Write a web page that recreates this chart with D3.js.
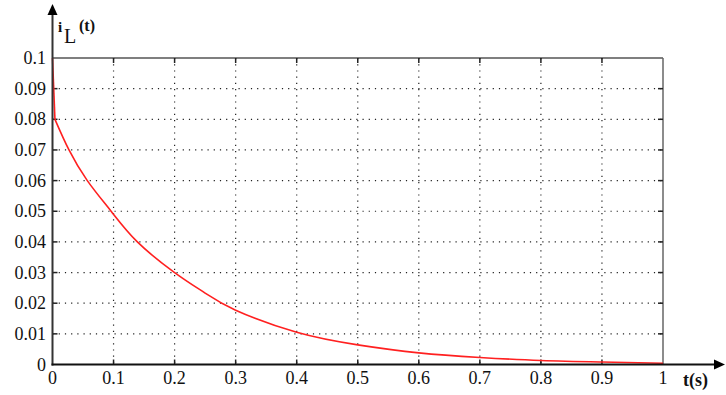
<!DOCTYPE html>
<html>
<head>
<meta charset="utf-8">
<script src="https://cdn.jsdelivr.net/npm/d3@7"></script>
<style>
  body { margin: 0; background: #fff; }
  svg text { fill: #111; }
</style>
</head>
<body>
<div id="chart"></div>
<script>
const width = 726;
const height = 395;

// values
const tValues = [0, 0.004, 0.027, 0.057, 0.096, 0.139, 0.2, 0.25, 0.3, 0.4, 0.5, 0.6, 0.7, 0.8, 0.9, 1.0];
const iValues = [0.1, 0.08, 0.07, 0.06, 0.05, 0.04, 0.03, 0.0233, 0.0177, 0.0105, 0.0064, 0.0038, 0.0023, 0.0013, 0.0008, 0.0004];
const xTicks = [0, 0.1, 0.2, 0.3, 0.4, 0.5, 0.6, 0.7, 0.8, 0.9, 1];
const yTicks = [0, 0.01, 0.02, 0.03, 0.04, 0.05, 0.06, 0.07, 0.08, 0.09, 0.1];
const xTickLabels = ['0', '0.1', '0.2', '0.3', '0.4', '0.5', '0.6', '0.7', '0.8', '0.9', '1'];
const yTickLabels = ['0', '0.01', '0.02', '0.03', '0.04', '0.05', '0.06', '0.07', '0.08', '0.09', '0.1'];

const points = tValues.map((t, i) => ({ t: t, v: iValues[i] }));

const plotLeft = 52.5, plotRight = 663, plotTop = 58, plotBottom = 364.5;
const serif = 'Times New Roman, Liberation Serif, Tinos, DejaVu Serif, serif';

const x = d3.scaleLinear().domain([0, 1]).range([plotLeft, plotRight]);
const y = d3.scaleLinear().domain([0, 0.1]).range([plotBottom, plotTop]);

const svg = d3.select('#chart').append('svg')
    .attr('width', width)
    .attr('height', height)
    .style('font-family', serif);

// dotted grid
svg.append('g').selectAll('line')
    .data(xTicks.slice(1, -1))
    .join('line')
    .attr('x1', d => x(d)).attr('x2', d => x(d))
    .attr('y1', plotTop).attr('y2', plotBottom)
    .attr('stroke', '#222')
    .attr('stroke-width', 1.2)
    .attr('stroke-dasharray', '1.2,5');

svg.append('g').selectAll('line')
    .data(yTicks.slice(1, -1))
    .join('line')
    .attr('x1', plotLeft).attr('x2', plotRight)
    .attr('y1', d => y(d)).attr('y2', d => y(d))
    .attr('stroke', '#222')
    .attr('stroke-width', 1.2)
    .attr('stroke-dasharray', '1.2,5');

// top border and right border
svg.append('line')
    .attr('x1', plotLeft).attr('x2', plotRight)
    .attr('y1', plotTop).attr('y2', plotTop)
    .attr('stroke', '#000').attr('stroke-width', 1.2);
svg.append('line')
    .attr('x1', plotRight).attr('x2', plotRight)
    .attr('y1', plotTop).attr('y2', plotBottom)
    .attr('stroke', '#666').attr('stroke-width', 1.5);

// small inward ticks (top, bottom, left, right)
const tickLen = 5;
const ticks = svg.append('g').attr('stroke', '#222').attr('stroke-width', 1.5);
ticks.append('g').selectAll('line').data(xTicks.slice(1, -1)).join('line')
    .attr('x1', d => x(d)).attr('x2', d => x(d))
    .attr('y1', plotTop).attr('y2', plotTop + tickLen);
ticks.append('g').selectAll('line').data(xTicks.slice(1, -1)).join('line')
    .attr('x1', d => x(d)).attr('x2', d => x(d))
    .attr('y1', plotBottom).attr('y2', plotBottom - tickLen);
ticks.append('g').selectAll('line').data(yTicks.slice(1, -1)).join('line')
    .attr('x1', plotLeft).attr('x2', plotLeft + tickLen)
    .attr('y1', d => y(d)).attr('y2', d => y(d));
ticks.append('g').selectAll('line').data(yTicks.slice(1, -1)).join('line')
    .attr('x1', plotRight).attr('x2', plotRight - tickLen)
    .attr('y1', d => y(d)).attr('y2', d => y(d));

// curve: the initial jump is straight, the decay is smooth
const line = d3.line()
    .x(d => x(d.t))
    .y(d => y(d.v));

svg.append('path')
    .datum(points.slice(0, 2))
    .attr('d', line)
    .attr('fill', 'none')
    .attr('stroke', '#ff2020')
    .attr('stroke-width', 1.6);

svg.append('path')
    .datum(points.slice(1))
    .attr('d', line.curve(d3.curveNatural))
    .attr('fill', 'none')
    .attr('stroke', '#ff2020')
    .attr('stroke-width', 1.6);

// axes with arrows
svg.append('line')
    .attr('x1', plotLeft).attr('x2', plotLeft)
    .attr('y1', plotBottom + 1).attr('y2', 14)
    .attr('stroke', '#333').attr('stroke-width', 2);
svg.append('path')
    .attr('d', `M${plotLeft - 5},15 L${plotLeft},4 L${plotLeft + 5},15 Z`)
    .attr('fill', '#000');

svg.append('line')
    .attr('x1', plotLeft - 1).attr('x2', 715)
    .attr('y1', plotBottom).attr('y2', plotBottom)
    .attr('stroke', '#111').attr('stroke-width', 2);
svg.append('path')
    .attr('d', `M714,${plotBottom - 5} L725,${plotBottom} L714,${plotBottom + 5} Z`)
    .attr('fill', '#000');

// tick labels
svg.append('g').selectAll('text')
    .data(yTicks)
    .join('text')
    .attr('x', 46)
    .attr('y', d => y(d) + 6)
    .attr('text-anchor', 'end')
    .style('font-size', '18px')
    .text((d, i) => yTickLabels[i]);

svg.append('g').selectAll('text')
    .data(xTicks)
    .join('text')
    .attr('x', d => x(d))
    .attr('y', 384)
    .attr('text-anchor', 'middle')
    .style('font-size', '18px')
    .text((d, i) => xTickLabels[i]);

// axis titles
const yTitle = svg.append('text');
yTitle.append('tspan').attr('x', 58).attr('y', 32)
    .style('font-size', '15px').style('font-weight', 'bold').text('i');
yTitle.append('tspan').attr('x', 64).attr('y', 43)
    .style('font-size', '20px').text('L');
yTitle.append('tspan').attr('x', 79).attr('y', 31)
    .style('font-size', '16px').style('font-weight', 'bold').text('(t)');

svg.append('text')
    .attr('x', 683)
    .attr('y', 386)
    .style('font-size', '18px')
    .style('font-weight', 'bold')
    .text('t(s)');
</script>
</body>
</html>
